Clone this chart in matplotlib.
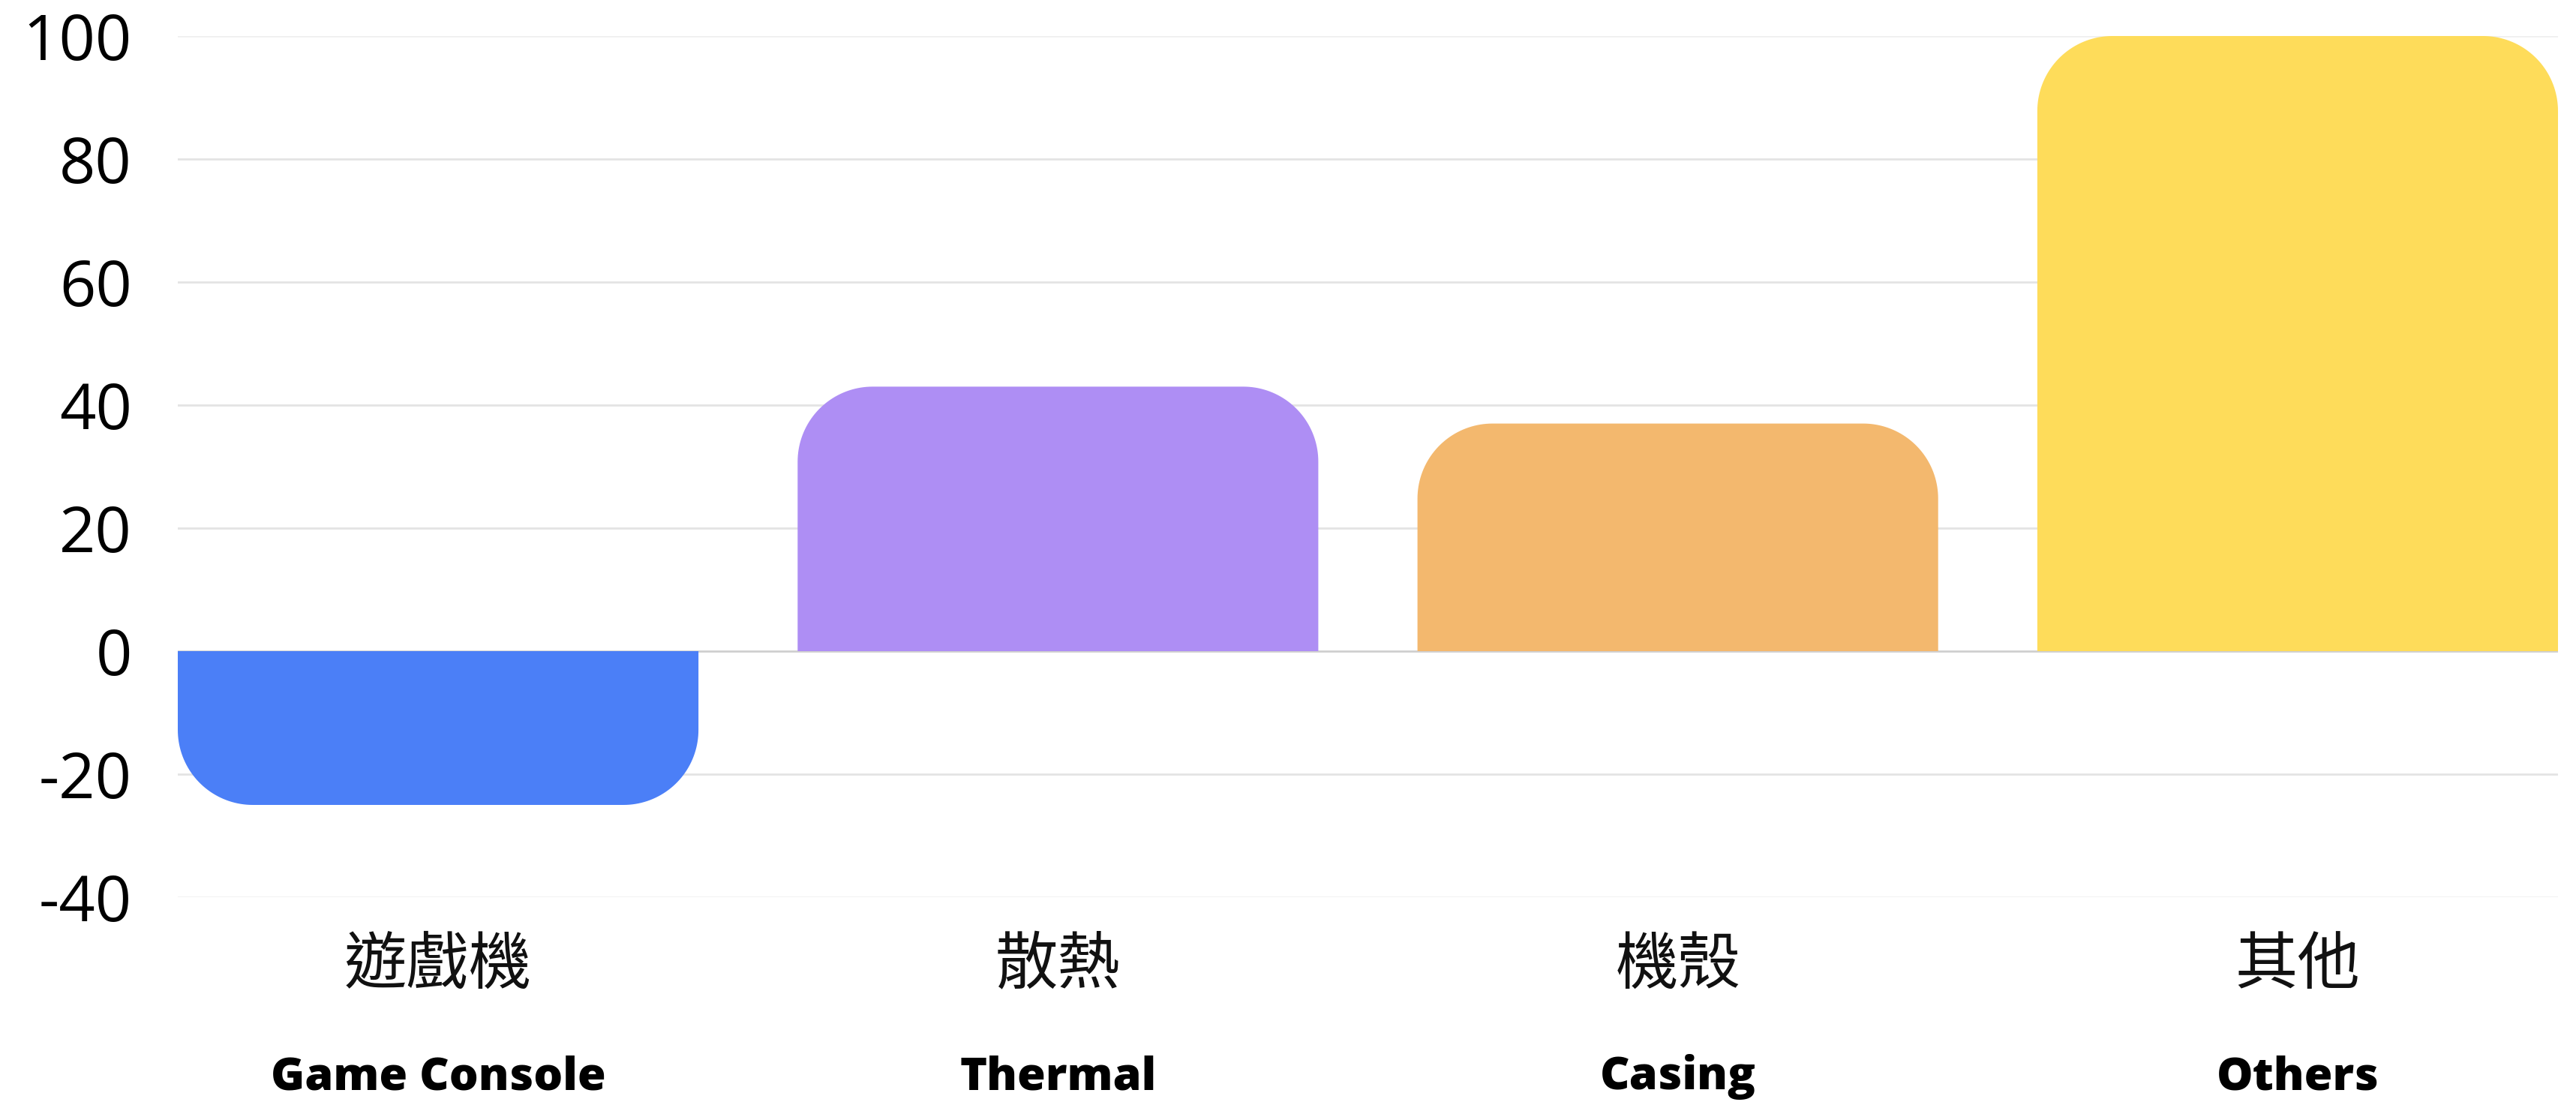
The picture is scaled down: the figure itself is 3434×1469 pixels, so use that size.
import numpy as np
import matplotlib
matplotlib.use("Agg")
import matplotlib.pyplot as plt
from matplotlib.patches import Polygon

plt.rcParams['font.family'] = ['Open Sans', 'Noto Sans CJK TC', 'DejaVu Sans']
plt.rcParams['axes.unicode_minus'] = False

# data
categories_zh = ["遊戲機", "散熱", "機殼", "其他"]
categories_en = ["Game Console", "Thermal", "Casing", "Others"]
values = [-25, 43, 37, 100]
bar_colors = ["#4B7FF7", "#AE8EF4", "#F3B86E", "#FEDC5A"]
y_ticks = [-40, -20, 0, 20, 40, 60, 80, 100]

W, H, DPI = 3434, 1469, 100
fig = plt.figure(figsize=(W / DPI, H / DPI), dpi=DPI)
fig.patch.set_facecolor("white")

# axes placed in pixel terms of the reference
left, right, top, bottom = 237, 3410, 48, 1196
ax = fig.add_axes([left / W, 1 - bottom / H, (right - left) / W, (bottom - top) / H])

BAR_W = 0.84
ax.set_xlim(-BAR_W / 2, len(values) - 1 + BAR_W / 2)
ax.set_ylim(-40, 100)

for s in ax.spines.values():
    s.set_visible(False)

# grid lines
for t in y_ticks:
    if t == 0:
        col = "#CFCFCF"
    elif t in (-40, 100):
        col = "#F0F0F0"
    else:
        col = "#E4E4E4"
    ax.axhline(t, color=col, lw=2.0, zorder=0)

# radius of corners, 100 px in both directions
p0 = ax.transData.transform((0, 0))
p1 = ax.transData.transform((1, 1))
rx = 100 / (p1[0] - p0[0])
ry = 100 / (p1[1] - p0[1])


def rounded_bar(xc, v, color):
    x0 = xc - BAR_W / 2
    x1 = xc + BAR_W / 2
    sg = np.sign(v)
    pts = [(x0, 0)]
    t = np.linspace(np.pi, np.pi / 2, 40)
    cx, cy = x0 + rx, v - sg * ry
    pts += list(zip(cx + rx * np.cos(t), cy + sg * ry * np.sin(t)))
    t = np.linspace(np.pi / 2, 0, 40)
    cx = x1 - rx
    pts += list(zip(cx + rx * np.cos(t), cy + sg * ry * np.sin(t)))
    pts.append((x1, 0))
    ax.add_patch(Polygon(pts, closed=True, facecolor=color, edgecolor="none", zorder=2))


for i, v in enumerate(values):
    rounded_bar(i, v, bar_colors[i])

ax.set_xticks([])
ax.set_yticks(y_ticks)
ax.set_yticklabels([str(t) for t in y_ticks], fontsize=61, color="black")
ax.tick_params(axis="y", length=0, pad=44)

trans = ax.get_xaxis_transform()
for i in range(len(values)):
    ax.text(i, -0.079, categories_zh[i], transform=trans, ha="center", va="center",
            fontsize=60, family=["Noto Sans CJK TC", "DejaVu Sans"], color="#111111")
    ax.text(i, -0.223, categories_en[i], transform=trans, ha="center", va="baseline",
            fontsize=44, fontweight="heavy", color="black")

fig.savefig("out.png", dpi=DPI, facecolor="white")
